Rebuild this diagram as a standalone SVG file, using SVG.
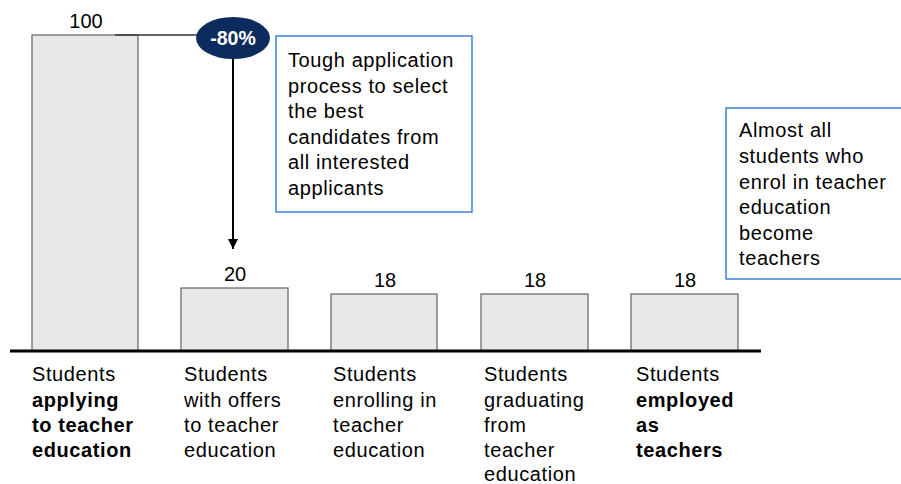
<svg xmlns="http://www.w3.org/2000/svg" width="901" height="484" viewBox="0 0 901 484">
<defs>
<style>
text{font-family:"Liberation Sans",Arial,sans-serif;font-size:20px;fill:#000;letter-spacing:0.6px}
.b{font-weight:bold}
.bar{fill:#e8e8e8;stroke:#6e6e6e;stroke-width:1.3}
.note{fill:#fff;stroke:#1e6fc8;stroke-width:1.3}
.val{text-anchor:middle;letter-spacing:0}
</style>
<marker id="ah" viewBox="0 0 10 10" refX="10" refY="5" markerWidth="10" markerHeight="10" markerUnits="userSpaceOnUse" orient="auto">
<path d="M0,0 L10,5 L0,10 z" fill="#000"/>
</marker>
</defs>
<rect width="901" height="484" fill="#fff"/>
<g id="bar1"><rect class="bar" x="32" y="35" width="106" height="316"/><text class="val" x="86" y="28">100</text></g>
<g id="bar2"><rect class="bar" x="181" y="288" width="107" height="63"/><text class="val" x="235" y="281">20</text></g>
<g id="bar3"><rect class="bar" x="331" y="294" width="106" height="57"/><text class="val" x="385" y="287">18</text></g>
<g id="bar4"><rect class="bar" x="481" y="294" width="107" height="57"/><text class="val" x="535" y="287">18</text></g>
<g id="bar5"><rect class="bar" x="631" y="294" width="107" height="57"/><text class="val" x="685" y="287">18</text></g>
<g id="connectors">
<line x1="115" y1="35" x2="200" y2="35" stroke="#333" stroke-width="1.5"/>
<line x1="233" y1="58" x2="233" y2="249" stroke="#000" stroke-width="2" marker-end="url(#ah)"/>
<line x1="10" y1="351" x2="761" y2="351" stroke="#000" stroke-width="3"/>
</g>
<g id="badge"><ellipse cx="233" cy="38" rx="37" ry="21" fill="#0c2c5e"/><text x="233" y="45" class="b val" style="fill:#fff;font-size:19.5px">-80%</text></g>
<g id="note1"><rect class="note" x="276" y="36" width="196" height="176"/>
<text x="288" y="67">Tough application</text><text x="288" y="93">process to select</text><text x="288" y="118">the best</text><text x="288" y="144">candidates from</text><text x="288" y="169">all interested</text><text x="288" y="195">applicants</text></g>
<g id="note2"><rect class="note" x="726" y="108" width="190" height="171"/>
<text x="739" y="137">Almost all</text><text x="739" y="163">students who</text><text x="739" y="189">enrol in teacher</text><text x="739" y="214">education</text><text x="739" y="240">become</text><text x="739" y="265">teachers</text></g>
<g id="label1"><text x="32" y="381">Students</text><text x="32" y="407" class="b">applying</text><text x="32" y="432" class="b">to teacher</text><text x="32" y="457" class="b">education</text></g>
<g id="label2"><text x="184" y="381">Students</text><text x="184" y="407">with offers</text><text x="184" y="432">to teacher</text><text x="184" y="457">education</text></g>
<g id="label3"><text x="333" y="381">Students</text><text x="333" y="407">enrolling in</text><text x="333" y="432">teacher</text><text x="333" y="457">education</text></g>
<g id="label4"><text x="484" y="381">Students</text><text x="484" y="407">graduating</text><text x="484" y="432">from</text><text x="484" y="457">teacher</text><text x="484" y="481">education</text></g>
<g id="label5"><text x="636" y="381">Students</text><text x="636" y="407" class="b">employed</text><text x="636" y="432" class="b">as</text><text x="636" y="457" class="b">teachers</text></g>
</svg>
